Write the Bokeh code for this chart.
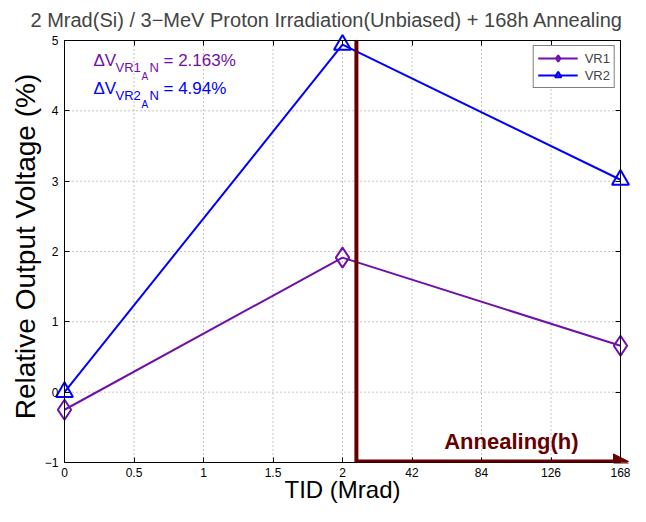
import numpy as np
from bokeh.plotting import figure
from bokeh.models import (Range1d, FixedTicker, LinearAxis, Label, Arrow,
                          NormalHead, Legend, LegendItem)
from bokeh.embed import file_html
from bokeh.resources import INLINE

# ---- data ----
x_tick_values = [0, 0.5, 1, 1.5, 2, 42, 84, 126, 168]
x_tick_labels = ["0", "0.5", "1", "1.5", "2", "42", "84", "126", "168"]
y_ticks = [-1, 0, 1, 2, 3, 4, 5]
tid = [0, 2, 168]
vr1 = [-0.25, 1.913, 0.66]
vr2 = [0.0, 4.94, 3.02]

FONT = "Liberation Sans"
PURPLE = "#7010A8"
BLUE = "#0000FF"
DARK = "#660000"

idx = list(range(len(x_tick_values)))
xpos = np.interp(tid, x_tick_values, idx)
x0, x1 = idx[0], idx[-1]
y0, y1 = y_ticks[0], y_ticks[-1]

# small padding so that markers on the box edge are not clipped
PADX = 10 / 69.5
PADY = 10 / 70.33

p = figure(width=630, height=506,
           x_range=Range1d(x0 - PADX, x1 + PADX), y_range=Range1d(y0, y1 + PADY),
           output_backend="svg", toolbar_location=None,
           min_border_left=54, min_border_right=0, min_border_top=30, min_border_bottom=44)

p.title.text = "2 Mrad(Si) / 3\u2212MeV Proton Irradiation(Unbiased) + 168h Annealing"
p.title.text_font = FONT
p.title.text_font_size = "20px"
p.title.text_font_style = "normal"
p.title.align = "left"
p.title.standoff = 0
p.title.offset = -24

p.outline_line_color = None
p.background_fill_color = "white"
p.border_fill_color = "white"
p.xgrid.visible = False
p.ygrid.visible = False

# main axes (labels)
xa = p.xaxis[0]
xa.ticker = FixedTicker(ticks=idx)
xa.major_label_overrides = {i: lab for i, lab in zip(idx, x_tick_labels)}
xa.bounds = (x0, x1)
ya = p.yaxis[0]
ya.ticker = FixedTicker(ticks=y_ticks)
ya.major_label_overrides = {-1: "\u22121"}
ya.axis_line_color = None
ya.major_tick_line_color = None
for ax in (xa, ya):
    ax.major_tick_in = 5
    ax.major_tick_out = 0
    ax.minor_tick_line_color = None
    ax.major_label_text_font = FONT
    ax.major_label_text_font_size = "12px"
    ax.major_label_text_color = "black"
    ax.axis_label_text_font = FONT
    ax.axis_label_text_font_style = "normal"
    ax.axis_label_text_color = "black"
xa.axis_line_color = "black"
xa.major_tick_line_color = "black"
xa.axis_label = "TID (Mrad)"
xa.axis_label_text_font_size = "24px"
xa.major_label_standoff = 5
xa.axis_label_standoff = -4
ya.axis_label = "Relative Output Voltage (%)"
ya.axis_label_text_font_size = "28px"
ya.major_label_standoff = -4
ya.axis_label_standoff = 1

# box axes: line + inward ticks only
def box_axis(ticks, loc, bounds):
    return LinearAxis(ticker=FixedTicker(ticks=ticks), major_label_text_font_size="0px",
                      major_tick_in=5, major_tick_out=0, minor_tick_line_color=None,
                      major_label_standoff=0, axis_line_color="black",
                      major_tick_line_color="black",
                      fixed_location=loc, bounds=bounds)

p.add_layout(box_axis(idx, y1, (x0, x1)), "above")
p.add_layout(box_axis(y_ticks, x1, (y0, y1)), "right")
p.add_layout(box_axis(y_ticks, x0, (y0, y1)), "left")

# dotted grid inside the box
grid_style = dict(line_color="black", line_alpha=0.45, line_dash="1 3", line_width=1)
p.segment(x0=idx, y0=[y0] * len(idx), x1=idx, y1=[y1] * len(idx), **grid_style)
p.segment(x0=[x0] * len(y_ticks), y0=y_ticks, x1=[x1] * len(y_ticks), y1=y_ticks, **grid_style)

# series
l1 = p.line(xpos, vr1, line_color=PURPLE, line_width=2)
s1 = p.scatter(xpos, vr1, marker="diamond", size=20,
               fill_color=None, line_color=PURPLE, line_width=2)
l2 = p.line(xpos, vr2, line_color=BLUE, line_width=2)
s2 = p.scatter(xpos, vr2, marker="triangle", size=17,
               fill_color=None, line_color=BLUE, line_width=2)

legend = Legend(items=[LegendItem(label="VR1", renderers=[l1, s1]),
                       LegendItem(label="VR2", renderers=[l2, s2])],
                location="top_right", margin=15, padding=4, spacing=1,
                glyph_width=40, glyph_height=16, label_standoff=7,
                label_text_font=FONT, label_text_font_size="13px",
                border_line_color="black", border_line_width=1,
                background_fill_color="white", background_fill_alpha=1)
p.add_layout(legend)

# annealing marker
p.segment(x0=[4.2], y0=[y0], x1=[4.2], y1=[y1], line_color=DARK, line_width=4)
p.add_layout(Arrow(end=NormalHead(size=15, fill_color=DARK, line_color=DARK),
                   x_start=4.2, y_start=-0.985, x_end=8.115, y_end=-0.985,
                   line_color=DARK, line_width=4))
p.add_layout(Label(x=6.43, y=-0.70, text="Annealing(h)", text_font=FONT,
                   text_font_size="22px", text_font_style="bold", text_color=DARK,
                   text_align="center", text_baseline="middle"))

# delta V annotations
def dv(y, name, val, color):
    parts = [("\u0394V", 0, 0, "17px"), (name, 22, -7, "13px"), ("A", 48, -16, "10px"),
             ("N", 56, -7, "13px"), ("= " + val, 70, 0, "17px")]
    for t, dx, dy, fs in parts:
        p.add_layout(Label(x=0.417, y=y, x_offset=dx, y_offset=dy, text=t,
                           text_font=FONT, text_font_size=fs, text_color=color,
                           text_align="left", text_baseline="alphabetic"))

dv(4.717, "VR1", "2.163%", PURPLE)
dv(4.32, "VR2", "4.94%", BLUE)

open("out.html", "w").write(file_html(p, INLINE))
